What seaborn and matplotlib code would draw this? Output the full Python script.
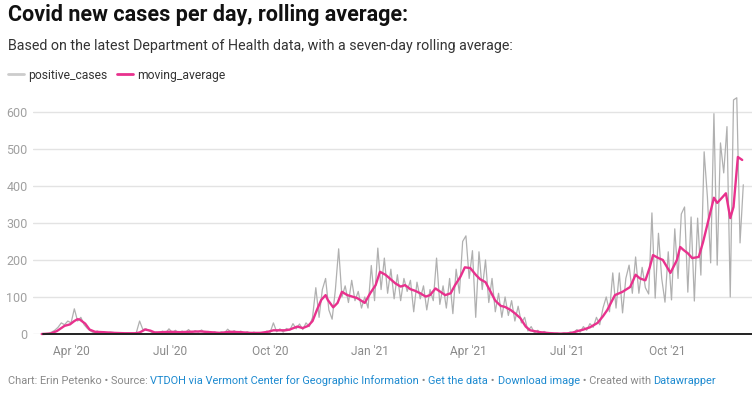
import pandas as pd
import matplotlib.pyplot as plt
import seaborn as sns
from matplotlib.lines import Line2D

# daily cases, every third day from 2020-03-05
positive_cases = [
    0, 1, 2, 5, 10, 18, 30, 25, 35, 30, 68, 35, 45, 25, 15, 8, 3, 8, 4, 6,
    2, 5, 4, 1, 3, 1, 3, 2, 1, 4, 35, 12, 14, 8, 3, 5, 2, 8, 3, 14,
    4, 10, 2, 8, 4, 12, 3, 9, 5, 11, 3, 7, 2, 6, 1, 6, 3, 13, 4, 9,
    3, 8, 2, 6, 1, 5, 2, 4, 1, 8,
    4, 30, 6, 14, 5, 15, 10, 28, 14, 27, 12, 30, 20, 45, 125, 45, 120, 150, 65, 40,
    120, 230, 100, 130, 85, 145, 90, 115, 70, 100,
    70, 185, 90, 232, 120, 205, 110, 175, 95, 160, 90, 150, 115, 145, 60, 140, 95, 130, 65, 120,
    90, 205, 80, 130, 70, 150, 55, 175, 110, 250,
    265, 150, 225, 45, 222, 120, 200, 85, 150, 60, 110, 45, 100, 50, 90, 35, 75, 30, 45, 8,
    20, 3, 10, 2, 7, 1, 4, 1, 2, 0,
    3, 1, 6, 3, 12, 5, 20, 10, 28, 18, 45, 25, 70, 100, 60, 165, 70, 165, 57, 150,
    186, 110, 208, 110, 180, 125, 108, 327, 97, 272,
    150, 86, 222, 92, 284, 150, 324, 343, 113, 316, 89, 313, 159, 492, 370, 192, 595, 186, 516, 435,
    560, 100, 632, 638, 246, 403,
]
cases_start = "2020-03-05"

ma_dates = [
    "2020-03-05", "2020-03-13", "2020-03-19", "2020-03-26", "2020-03-31", "2020-04-04", "2020-04-07",
    "2020-04-09", "2020-04-14", "2020-04-18", "2020-04-23", "2020-04-30", "2020-05-11", "2020-05-21",
    "2020-05-30", "2020-06-03", "2020-06-08", "2020-06-13", "2020-06-17", "2020-06-24", "2020-07-01",
    "2020-07-10", "2020-07-19", "2020-07-29", "2020-08-07", "2020-08-16", "2020-08-25", "2020-09-03",
    "2020-09-13", "2020-09-22", "2020-09-29", "2020-10-04", "2020-10-15", "2020-10-19", "2020-10-26",
    "2020-10-31", "2020-11-05", "2020-11-09", "2020-11-13", "2020-11-17", "2020-11-21", "2020-11-23",
    "2020-11-28", "2020-12-02", "2020-12-06", "2020-12-11", "2020-12-20", "2020-12-27", "2021-01-01",
    "2021-01-06", "2021-01-10", "2021-01-15", "2021-01-19", "2021-01-24", "2021-01-29", "2021-02-02",
    "2021-02-07", "2021-02-11", "2021-02-16", "2021-02-21", "2021-02-25", "2021-03-02", "2021-03-06",
    "2021-03-11", "2021-03-16", "2021-03-20", "2021-03-25", "2021-03-29", "2021-04-03", "2021-04-08",
    "2021-04-12", "2021-04-17", "2021-04-21", "2021-04-26", "2021-05-01", "2021-05-05", "2021-05-10",
    "2021-05-14", "2021-05-19", "2021-05-24", "2021-05-28", "2021-06-06", "2021-06-16", "2021-06-25",
    "2021-07-04", "2021-07-11", "2021-07-16", "2021-07-22", "2021-07-29", "2021-08-03", "2021-08-07",
    "2021-08-11", "2021-08-14", "2021-08-21", "2021-08-28", "2021-09-02", "2021-09-06", "2021-09-11",
    "2021-09-15", "2021-09-18", "2021-09-23", "2021-09-27", "2021-10-04", "2021-10-10", "2021-10-13",
    "2021-10-16", "2021-10-20", "2021-10-24", "2021-10-30", "2021-11-03", "2021-11-08", "2021-11-13",
    "2021-11-16", "2021-11-21", "2021-11-24", "2021-11-28", "2021-12-01", "2021-12-05", "2021-12-09",
]
moving_average = [
    0, 1, 8, 22, 26, 35, 40,
    39, 28, 12, 6, 5, 3, 2,
    2, 4, 12, 9, 4, 5, 6,
    5, 6, 7, 5, 3, 6, 5,
    3, 3, 6, 10, 10, 12, 20,
    16, 22, 35, 65, 92, 105, 92,
    72, 84, 114, 105, 97, 84, 110,
    132, 168, 160, 150, 137, 128, 132,
    121, 117, 110, 101, 105, 123, 115,
    105, 110, 132, 155, 180, 178, 160,
    148, 140, 118, 90, 76, 73, 65,
    56, 43, 20, 10, 5, 2, 1,
    2, 8, 12, 18, 30, 48, 65,
    88, 105, 114, 127, 160, 150, 145,
    180, 213, 205, 200, 165, 200, 235,
    227, 218, 205, 208, 248, 308, 368,
    354, 370, 380, 313, 343, 478, 470,
]

tick_dates = ["2020-04-01", "2020-07-01", "2020-10-01", "2021-01-01", "2021-04-01", "2021-07-01", "2021-10-01"]
tick_labels = ["Apr '20", "Jul '20", "Oct '20", "Jan '21", "Apr '21", "Jul '21", "Oct '21"]
y_ticks = [0, 100, 200, 300, 400, 500, 600]

GRAY = "#b0b0b0"
PINK = "#e8318d"
LINK = "#1d8ad0"
MUTED = "#8a8a8a"

sns.set_style("white")
plt.rcParams["font.family"] = ["Roboto", "DejaVu Sans"]

cases_df = pd.DataFrame({
    "date": pd.date_range(cases_start, periods=len(positive_cases), freq="3D"),
    "positive_cases": positive_cases,
})
ma_df = pd.DataFrame({"date": pd.to_datetime(ma_dates), "moving_average": moving_average})

W, H = 752, 394
fig = plt.figure(figsize=(W / 100, H / 100), dpi=100)
ax = fig.add_axes([33 / W, 1 - 334 / H, (W - 33) / W, (334 - 97) / H])

sns.lineplot(data=cases_df, x="date", y="positive_cases", ax=ax, color=GRAY, linewidth=0.9)
sns.lineplot(data=ma_df, x="date", y="moving_average", ax=ax, color=PINK, linewidth=1.7)

ax.set_xlim(pd.Timestamp("2020-02-26"), pd.Timestamp("2021-12-18"))
ax.set_ylim(0, 640)
ax.set_yticks(y_ticks)
ax.set_yticklabels([str(v) for v in y_ticks], color="#a0a0a0", fontsize=9)
ax.set_xticks(pd.to_datetime(tick_dates))
ax.set_xticklabels(tick_labels, color=MUTED, fontsize=8.6)
ax.tick_params(axis="both", length=0)
ax.tick_params(axis="x", pad=8)
ax.tick_params(axis="y", pad=4)
ax.grid(axis="y", color="#e3e3e3", linewidth=1)
ax.set_axisbelow(True)
ax.axhline(0, xmin=0.014, color="#222222", linewidth=1.4)
ax.set_xlabel("")
ax.set_ylabel("")
sns.despine(ax=ax, left=True, bottom=True)
for line in ax.lines:
    line.set_clip_on(False)

# title, subtitle
fig.text(8 / W, 1 - 4 / H, "Covid new cases per day, rolling average:", fontsize=15.5,
         fontweight="bold", color="#111111", va="top", ha="left")
fig.text(8 / W, 1 - 39 / H, "Based on the latest Department of Health data, with a seven-day rolling average:",
         fontsize=10.3, color="#333333", va="top", ha="left")

handles = [Line2D([], [], color="#cccccc", linewidth=2),
           Line2D([], [], color=PINK, linewidth=2)]
fig.legend(handles, ["positive_cases", "moving_average"], loc="center left",
           bbox_to_anchor=(-3 / W, 1 - 75 / H), ncol=2, frameon=False, fontsize=8.75,
           handlelength=1.3, handletextpad=0.4, columnspacing=0.75, labelcolor="#333333")

# footer, pieces placed one after another
renderer = fig.canvas.get_renderer()
pieces = [
    ("Chart: Erin Petenko \u2022 Source: ", MUTED),
    ("VTDOH via Vermont Center for Geographic Information", LINK),
    (" \u2022 ", MUTED),
    ("Get the data", LINK),
    (" \u2022 ", MUTED),
    ("Download image", LINK),
    (" \u2022 Created with ", MUTED),
    ("Datawrapper", LINK),
]
x = 8
for txt, col in pieces:
    t = fig.text(x / W, 1 - 381 / H, txt, fontsize=7.9, color=col, va="center", ha="left")
    x += t.get_window_extent(renderer).width

fig.savefig("out.png", dpi=100)
